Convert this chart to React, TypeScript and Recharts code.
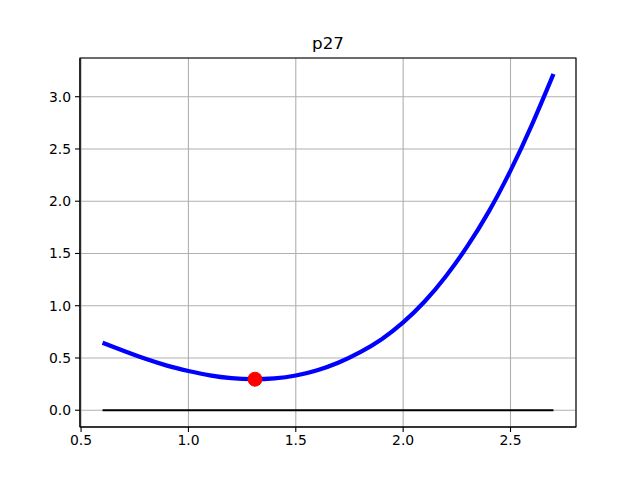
import React from "react";
import {
  ComposedChart,
  Line,
  Scatter,
  XAxis,
  YAxis,
  CartesianGrid,
  ReferenceArea,
} from "recharts";

// Curve values
const curveX = [0.6, 0.7, 0.8, 0.9, 1.0, 1.1, 1.2, 1.3, 1.4, 1.5, 1.6, 1.7, 1.8, 1.9, 2.0, 2.1, 2.2, 2.3, 2.4, 2.5, 2.6, 2.7];
const curveY = [0.645, 0.567, 0.492, 0.427, 0.376, 0.334, 0.307, 0.297, 0.305, 0.332, 0.383, 0.457, 0.556, 0.68, 0.84, 1.04, 1.285, 1.572, 1.905, 2.293, 2.733, 3.217];

// Zero line
const zeroX = [0.6, 2.7];
const zeroY = [0, 0];

// Minimum marker
const markerX = [1.31];
const markerY = [0.297];

const xTicks = [0.5, 1.0, 1.5, 2.0, 2.5];
const yTicks = [0.0, 0.5, 1.0, 1.5, 2.0, 2.5, 3.0];
const xDomain = [0.495, 2.805];
const yDomain = [-0.1605, 3.3705];

const title = "p27";

const curveData = curveX.map((x, i) => ({ x, y: curveY[i] }));
const zeroData = zeroX.map((x, i) => ({ x, y: zeroY[i] }));
const markerData = markerX.map((x, i) => ({ x, y: markerY[i] }));

const FONT = "DejaVu Sans";
const tickStyle = { fill: "#000", fontSize: 13.9, fontFamily: FONT };

const Dot = (props: any) => {
  const { cx, cy } = props;
  return <circle cx={cx} cy={cy} r={7} fill="#ff0000" stroke="#ff0000" strokeWidth={1} />;
};

export default function App() {
  return (
    <div style={{ position: "absolute", left: 0, top: 0, width: 640, height: 480, background: "#fff" }}>
      <ComposedChart
        width={640}
        height={480}
        margin={{ top: 58, right: 64, bottom: 23, left: 0 }}
      >
        <CartesianGrid stroke="#b0b0b0" strokeWidth={1.1} />
        <XAxis
          dataKey="x"
          type="number"
          domain={xDomain}
          ticks={xTicks}
          allowDataOverflow
          tickFormatter={(v: number) => v.toFixed(1)}
          tick={tickStyle}
          tickSize={5}
          tickMargin={3}
          height={30}
          axisLine={{ stroke: "#000", strokeWidth: 1.1 }}
          tickLine={{ stroke: "#000", strokeWidth: 1.1 }}
        />
        <YAxis
          dataKey="y"
          type="number"
          domain={yDomain}
          ticks={yTicks}
          allowDataOverflow
          tickFormatter={(v: number) => v.toFixed(1)}
          tick={tickStyle}
          tickSize={5}
          tickMargin={4}
          width={80}
          axisLine={{ stroke: "#000", strokeWidth: 1.1 }}
          tickLine={{ stroke: "#000", strokeWidth: 1.1 }}
        />
        <Line
          data={curveData}
          dataKey="y"
          type="natural"
          stroke="#0000ff"
          strokeWidth={4.2}
          dot={false}
          activeDot={false}
          isAnimationActive={false}
        />
        <Line
          data={zeroData}
          dataKey="y"
          type="linear"
          stroke="#000000"
          strokeWidth={2.1}
          dot={false}
          activeDot={false}
          isAnimationActive={false}
        />
        <Scatter
          data={markerData}
          dataKey="y"
          shape={<Dot />}
          isAnimationActive={false}
        />
        <ReferenceArea
          x1={xDomain[0]}
          x2={xDomain[1]}
          y1={yDomain[0]}
          y2={yDomain[1]}
          ifOverflow="visible"
          fill="none"
          fillOpacity={0}
          stroke="#000"
          strokeWidth={1.1}
        />
      </ComposedChart>
      <svg
        width={640}
        height={480}
        style={{ position: "absolute", left: 0, top: 0, pointerEvents: "none" }}
      >
        <text x={328} y={49} textAnchor="middle" fontFamily={FONT} fontSize={16.7} fill="#000">
          {title}
        </text>
      </svg>
    </div>
  );
}
